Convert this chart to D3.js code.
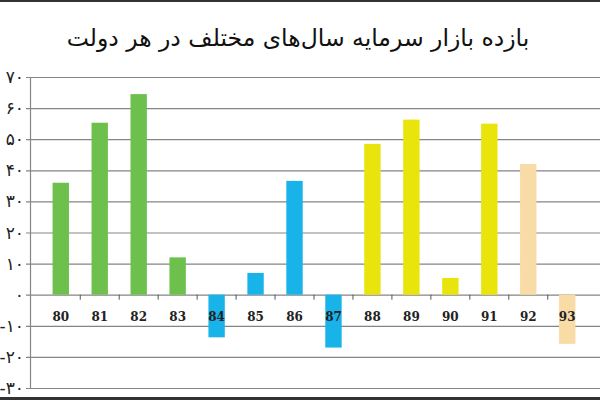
<!DOCTYPE html>
<html>
<head>
<meta charset="utf-8">
<script src="https://cdn.jsdelivr.net/npm/d3@7"></script>
<style>
  body { margin: 0; background: #fff; }
  svg { display: block; }
</style>
</head>
<body>
<svg width="600" height="400"></svg>
<script>
// years (Persian calendar) and market returns (%)
var years = ['80','81','82','83','84','85','86','87','88','89','90','91','92','93'];
var returns = [36, 55.3, 64.5, 12, -13.7, 7, 36.6, -17, 48.5, 56.3, 5.4, 55, 42, -15.8];
// one colour group per government
var groups = ['g1','g1','g1','g1','g2','g2','g2','g2','g3','g3','g3','g3','g4','g4'];
var groupColors = { g1: '#6cc04b', g2: '#18b3e9', g3: '#e9e40c', g4: '#f9dba6' };
var yTicks = [-30, -20, -10, 0, 10, 20, 30, 40, 50, 60, 70];
var title = 'بازده بازار سرمایه سال‌های مختلف در هر دولت';

var svg = d3.select('svg');

var x = d3.scaleBand().domain(years).range([30, 598]).padding(0.58);
var y = d3.scaleLinear().domain([-30, 70]).range([388, 77]);

var faDigits = function (n) {
  var s = String(Math.abs(n)).replace(/[0-9]/g, function (c) { return '۰۱۲۳۴۵۶۷۸۹'[+c]; });
  return n < 0 ? '-' + s : s;
};

// frame lines top and bottom
svg.append('rect').attr('x', 0).attr('y', 0).attr('width', 600).attr('height', 2).attr('fill', '#333');
svg.append('rect').attr('x', 0).attr('y', 397).attr('width', 600).attr('height', 3).attr('fill', '#333');

svg.append('text')
  .attr('x', 298).attr('y', 46)
  .attr('text-anchor', 'middle')
  .attr('direction', 'rtl')
  .style('font-family', 'DejaVu Sans')
  .style('font-size', '23.5px')
  .attr('fill', '#111')
  .text(title);

// grid lines
svg.append('g').selectAll('line')
  .data(yTicks)
  .enter()
  .append('line')
  .attr('x1', 26).attr('x2', 600)
  .attr('y1', function (d) { return y(d) + 0.5; })
  .attr('y2', function (d) { return y(d) + 0.5; })
  .attr('stroke', '#858585')
  .attr('stroke-width', 1.2);

// y labels
svg.append('g').selectAll('text')
  .data(yTicks)
  .enter()
  .append('text')
  .attr('x', 24)
  .attr('y', function (d) { return y(d) + 6; })
  .attr('text-anchor', 'end')
  .style('font-family', 'DejaVu Sans')
  .style('font-size', '17px')
  .attr('fill', '#222')
  .text(function (d) { return faDigits(d); });

// y axis line
svg.append('line')
  .attr('x1', 30.5).attr('x2', 30.5)
  .attr('y1', y(70)).attr('y2', y(-30) + 1)
  .attr('stroke', '#858585').attr('stroke-width', 1.2);

// bars
svg.append('g').selectAll('rect')
  .data(returns)
  .enter()
  .append('rect')
  .attr('x', function (d, i) { return x(years[i]); })
  .attr('width', x.bandwidth())
  .attr('y', function (d) { return y(Math.max(0, d)); })
  .attr('height', function (d) { return Math.abs(y(d) - y(0)); })
  .attr('fill', function (d, i) { return groupColors[groups[i]]; });

// category ticks on zero line, at band boundaries
svg.append('g').selectAll('line')
  .data(years.slice(1))
  .enter()
  .append('line')
  .attr('x1', function (d) { return x(d) - (x.step() - x.bandwidth()) / 2; })
  .attr('x2', function (d) { return x(d) - (x.step() - x.bandwidth()) / 2; })
  .attr('y1', y(0)).attr('y2', y(0) + 5)
  .attr('stroke', '#555').attr('stroke-width', 1);

// category labels
svg.append('g').selectAll('text')
  .data(years)
  .enter()
  .append('text')
  .attr('x', function (d) { return x(d) + x.bandwidth() / 2; })
  .attr('y', y(0) + 26)
  .attr('text-anchor', 'middle')
  .style('font-family', 'DejaVu Serif')
  .style('font-size', '12px')
  .style('font-weight', 'bold')
  .attr('fill', '#222')
  .text(function (d) { return d; });
</script>
</body>
</html>
